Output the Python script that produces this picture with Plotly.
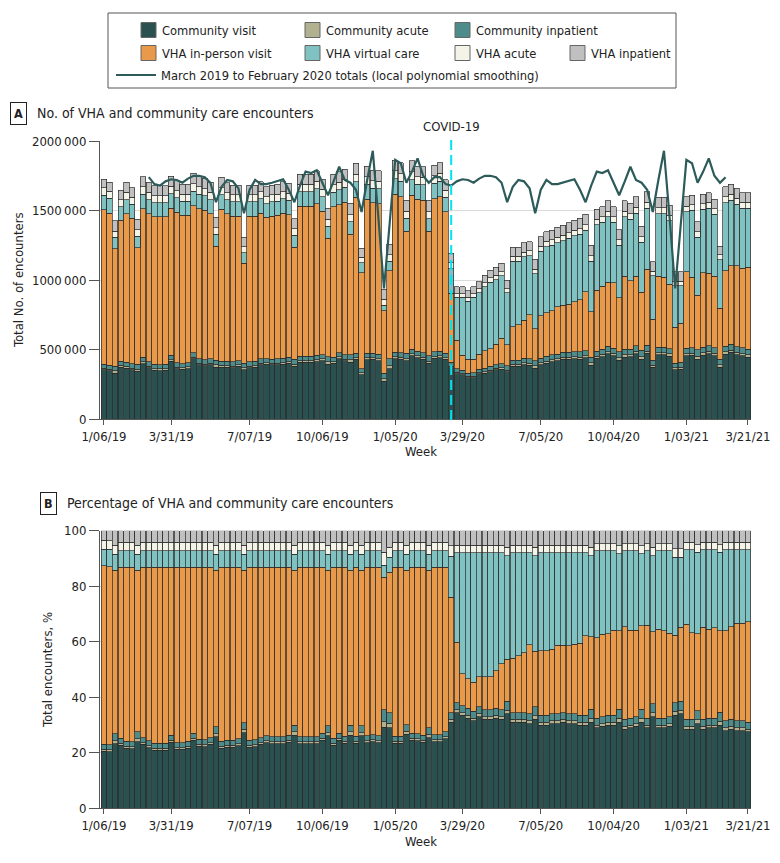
import pandas as pd
import plotly.graph_objects as go

# ---------------- data ----------------
weeks = [d.strftime("%-m/%d/%y") for d in pd.date_range("2019-01-06", periods=116, freq="7D")]
tick_labels = ["1/06/19", "3/31/19", "7/07/19", "10/06/19", "1/05/20",
               "3/29/20", "7/05/20", "10/04/20", "1/03/21", "3/21/21"]

# total weekly encounters (millions)
total_millions = [
    1.724, 1.702, 1.427, 1.647, 1.702, 1.664, 1.437, 1.743, 1.702, 1.678,
    1.678, 1.678, 1.748, 1.714, 1.690, 1.690, 1.767, 1.743, 1.731, 1.702,
    1.451, 1.738, 1.700, 1.683, 1.683, 1.307, 1.683, 1.683, 1.707, 1.671,
    1.683, 1.688, 1.707, 1.695, 1.443, 1.762, 1.762, 1.762, 1.786, 1.724,
    1.515, 1.760, 1.778, 1.796, 1.551, 1.839, 1.228, 1.820, 1.791, 1.786,
    0.936, 1.257, 1.863, 1.843, 1.576, 1.857, 1.820, 1.815, 1.575, 1.827,
    1.844, 1.720, 1.192, 0.953, 0.953, 0.924, 0.953, 0.989, 1.036, 1.072,
    1.092, 1.120, 1.000, 1.235, 1.235, 1.268, 1.276, 1.149, 1.312, 1.348,
    1.360, 1.379, 1.395, 1.413, 1.432, 1.444, 1.475, 1.250, 1.508, 1.527,
    1.570, 1.527, 1.364, 1.570, 1.551, 1.599, 1.389, 1.636, 1.132, 1.595,
    1.595, 1.539, 1.060, 1.060, 1.599, 1.611, 1.420, 1.618, 1.628, 1.580,
    1.245, 1.671, 1.688, 1.659, 1.628, 1.628,
]

# shares of weekly encounters (%)
community_visit = [
    20.6, 20.4, 23.3, 22.8, 21.6, 21.4, 24.0, 23.0, 21.8, 21.0,
    20.9, 21.0, 23.8, 21.2, 21.2, 21.6, 24.6, 22.4, 22.2, 23.0,
    25.8, 21.6, 22.0, 22.0, 22.6, 27.3, 22.0, 22.2, 23.0, 23.6,
    23.2, 23.2, 23.2, 23.8, 26.4, 23.2, 23.2, 23.2, 23.2, 24.5,
    26.2, 22.8, 24.5, 23.4, 26.4, 23.4, 26.2, 23.6, 24.0, 23.6,
    29.2, 29.0, 23.4, 23.4, 26.6, 24.6, 24.4, 23.8, 25.5, 24.0,
    24.0, 25.0, 31.0, 34.5, 33.5, 32.5, 31.5, 33.0, 32.0, 32.0,
    32.5, 32.0, 34.0, 31.0, 31.0, 31.0, 30.5, 32.0, 30.0, 30.0,
    30.5, 30.5, 31.0, 30.5, 30.5, 30.0, 30.0, 31.0, 29.0, 29.5,
    30.0, 30.0, 31.0, 28.5, 29.0, 29.5, 31.0, 29.0, 33.0, 29.0,
    29.0, 29.5, 33.5, 34.0, 28.5, 28.5, 30.5, 28.5, 29.0, 29.0,
    30.0, 28.0, 28.5, 28.0, 28.0, 27.5,
]
community_acute = [
    0.6, 0.7, 1.1, 0.7, 0.7, 0.7, 1.1, 0.7, 0.7, 0.7,
    0.7, 0.7, 0.7, 0.7, 0.7, 0.7, 0.7, 0.7, 0.7, 0.7,
    1.1, 0.7, 0.7, 0.7, 0.7, 1.1, 0.7, 0.7, 0.7, 0.7,
    0.7, 0.7, 0.7, 0.7, 1.1, 0.7, 0.7, 0.7, 0.7, 0.7,
    1.1, 0.7, 0.7, 0.7, 1.1, 0.7, 1.1, 0.7, 0.7, 0.7,
    2.0, 1.7, 0.7, 0.7, 1.1, 0.7, 0.7, 0.7, 1.1, 0.7,
    0.7, 0.7, 1.0, 1.0, 1.0, 1.0, 1.0, 1.0, 1.0, 1.0,
    1.0, 1.0, 1.4, 1.0, 1.0, 1.0, 1.0, 1.4, 1.0, 1.0,
    1.0, 1.0, 1.0, 1.0, 1.0, 1.0, 1.0, 1.4, 1.0, 1.0,
    1.0, 1.0, 1.4, 1.0, 1.0, 1.0, 1.4, 1.0, 1.4, 1.0,
    1.0, 1.0, 1.4, 1.4, 1.0, 1.0, 1.4, 1.0, 1.0, 1.0,
    1.4, 1.0, 1.0, 1.0, 1.0, 1.0,
]
community_inpatient = [
    1.8, 1.8, 2.4, 1.8, 1.8, 1.8, 2.4, 1.8, 1.8, 1.8,
    1.8, 1.8, 1.8, 1.8, 1.8, 1.8, 1.8, 1.8, 1.8, 1.8,
    2.4, 1.8, 1.8, 1.8, 1.8, 2.4, 1.8, 1.8, 1.8, 1.8,
    1.8, 1.8, 1.8, 1.8, 2.4, 1.8, 1.8, 1.8, 1.8, 1.8,
    2.4, 1.8, 1.8, 1.8, 2.4, 1.8, 2.4, 1.8, 1.8, 1.8,
    4.3, 3.8, 1.8, 1.8, 2.4, 1.8, 1.8, 1.8, 2.4, 1.8,
    1.8, 1.8, 2.5, 2.5, 2.5, 2.5, 2.5, 2.5, 2.5, 2.5,
    2.5, 2.5, 3.2, 2.5, 2.5, 2.5, 2.5, 3.2, 2.5, 2.5,
    2.5, 2.5, 2.5, 2.5, 2.5, 2.5, 2.5, 3.2, 2.5, 2.5,
    2.5, 2.5, 3.2, 2.5, 2.5, 2.5, 3.2, 2.5, 3.2, 2.5,
    2.5, 2.5, 3.2, 3.2, 2.5, 2.5, 3.2, 2.5, 2.5, 2.5,
    3.2, 2.5, 2.5, 2.5, 2.5, 2.5,
]
vha_in_person = [
    64.3, 64.1, 59.0, 61.5, 62.7, 62.9, 58.3, 61.3, 62.5, 63.3,
    63.4, 63.3, 60.5, 63.1, 63.1, 62.7, 59.7, 61.9, 62.1, 61.3,
    56.5, 62.7, 62.3, 62.3, 61.7, 55.0, 62.3, 62.1, 61.3, 60.7,
    61.1, 61.1, 61.1, 60.5, 55.9, 61.1, 61.1, 61.1, 61.1, 59.8,
    56.1, 61.5, 59.8, 60.9, 55.9, 60.9, 56.1, 60.7, 60.3, 60.7,
    47.7, 50.5, 60.9, 60.9, 55.7, 59.7, 59.9, 60.5, 56.8, 60.3,
    60.3, 59.3, 41.5, 21.8, 11.4, 10.6, 10.4, 10.9, 11.9, 11.9,
    13.5, 16.5, 15.1, 19.5, 20.5, 21.6, 25.0, 19.9, 23.3, 23.2,
    23.3, 24.7, 24.2, 24.6, 25.1, 25.9, 28.6, 26.2, 29.0, 29.7,
    29.3, 30.7, 28.4, 33.4, 31.7, 31.2, 30.2, 33.5, 26.0, 32.0,
    31.5, 30.0, 24.2, 26.6, 34.3, 31.3, 27.7, 33.2, 32.0, 32.5,
    29.4, 32.4, 33.4, 35.1, 35.1, 36.2,
]
vha_virtual = [
    6.1, 6.3, 5.8, 6.0, 6.0, 6.0, 5.8, 6.0, 6.0, 6.0,
    6.0, 6.0, 6.0, 6.0, 6.0, 6.0, 6.0, 6.0, 6.0, 6.0,
    5.8, 6.0, 6.0, 6.0, 6.0, 5.8, 6.0, 6.0, 6.0, 6.0,
    6.0, 6.0, 6.0, 6.0, 5.8, 6.0, 6.0, 6.0, 6.0, 6.0,
    5.8, 6.0, 6.0, 6.0, 5.8, 6.0, 5.8, 6.0, 6.0, 6.0,
    4.3, 5.5, 6.0, 6.0, 5.8, 6.0, 6.0, 6.0, 5.8, 6.0,
    6.0, 6.0, 14.8, 32.2, 43.6, 45.4, 46.6, 44.6, 44.6, 44.6,
    42.5, 40.0, 37.3, 38.0, 37.0, 35.9, 33.0, 34.5, 35.2, 35.3,
    34.7, 33.3, 33.3, 33.4, 32.9, 32.6, 29.9, 29.2, 31.2, 30.0,
    29.9, 28.5, 27.7, 27.3, 28.5, 28.5, 25.9, 26.7, 27.4, 28.2,
    28.7, 29.7, 28.2, 25.3, 26.9, 29.9, 29.4, 28.0, 28.7, 28.2,
    28.2, 29.3, 27.8, 26.6, 26.6, 26.0,
]
vha_acute = [
    3.1, 3.0, 3.2, 3.0, 3.0, 3.0, 3.2, 3.0, 3.0, 3.0,
    3.0, 3.0, 3.0, 3.0, 3.0, 3.0, 3.0, 3.0, 3.0, 3.0,
    3.2, 3.0, 3.0, 3.0, 3.0, 3.2, 3.0, 3.0, 3.0, 3.0,
    3.0, 3.0, 3.0, 3.0, 3.2, 3.0, 3.0, 3.0, 3.0, 3.0,
    3.2, 3.0, 3.0, 3.0, 3.2, 3.0, 3.2, 3.0, 3.0, 3.0,
    4.8, 3.5, 3.0, 3.0, 3.2, 3.0, 3.0, 3.0, 3.2, 3.0,
    3.0, 3.0, 3.7, 2.8, 2.8, 2.8, 2.8, 2.8, 2.8, 2.8,
    2.8, 2.8, 3.0, 2.8, 2.8, 2.8, 2.8, 3.0, 2.8, 2.8,
    2.8, 2.8, 2.8, 2.8, 2.8, 2.8, 2.8, 3.0, 2.6, 2.6,
    2.6, 2.6, 2.8, 2.6, 2.6, 2.6, 2.8, 2.6, 3.0, 2.6,
    2.6, 2.6, 3.0, 3.0, 2.6, 2.6, 2.8, 2.6, 2.6, 2.6,
    2.8, 2.6, 2.6, 2.6, 2.6, 2.6,
]
vha_inpatient = [
    3.5, 3.7, 5.2, 4.2, 4.2, 4.2, 5.2, 4.2, 4.2, 4.2,
    4.2, 4.2, 4.2, 4.2, 4.2, 4.2, 4.2, 4.2, 4.2, 4.2,
    5.2, 4.2, 4.2, 4.2, 4.2, 5.2, 4.2, 4.2, 4.2, 4.2,
    4.2, 4.2, 4.2, 4.2, 5.2, 4.2, 4.2, 4.2, 4.2, 4.2,
    5.2, 4.2, 4.2, 4.2, 5.2, 4.2, 5.2, 4.2, 4.2, 4.2,
    7.7, 6.0, 4.2, 4.2, 5.2, 4.2, 4.2, 4.2, 5.2, 4.2,
    4.2, 4.2, 5.5, 5.2, 5.2, 5.2, 5.2, 5.2, 5.2, 5.2,
    5.2, 5.2, 6.0, 5.2, 5.2, 5.2, 5.2, 6.0, 5.2, 5.2,
    5.2, 5.2, 5.2, 5.2, 5.2, 5.2, 5.2, 6.0, 4.7, 4.7,
    4.7, 4.7, 5.5, 4.7, 4.7, 4.7, 5.5, 4.7, 6.0, 4.7,
    4.7, 4.7, 6.5, 6.5, 4.2, 4.2, 5.0, 4.2, 4.2, 4.2,
    5.0, 4.2, 4.2, 4.2, 4.2, 4.2,
]

# March 2019 - February 2020 totals, local polynomial smoothing (millions);
# drawn over weeks 3/03/19-2/23/20 and again one year later for comparison
trend_millions = [
    1.74, 1.69, 1.68, 1.71, 1.725, 1.72, 1.70, 1.73, 1.75, 1.75,
    1.74, 1.70, 1.56, 1.67, 1.72, 1.71, 1.66, 1.48, 1.65, 1.72,
    1.69, 1.69, 1.70, 1.71, 1.725, 1.65, 1.56, 1.68, 1.78, 1.77,
    1.79, 1.70, 1.61, 1.71, 1.815, 1.72, 1.70, 1.65, 1.49, 1.72,
    1.93, 1.45, 0.94, 1.40, 1.865, 1.84, 1.70, 1.78, 1.875, 1.75,
    1.70, 1.74,
]
trend_weeks = weeks[8:60] + weeks[60:112]
covid_week = weeks[62]

series = [
    ("Community visit", community_visit, "#2A5050"),
    ("Community acute", community_acute, "#B1B08F"),
    ("Community inpatient", community_inpatient, "#4E8C8B"),
    ("VHA in-person visit", vha_in_person, "#E9994A"),
    ("VHA virtual care", vha_virtual, "#7FC2C1"),
    ("VHA acute", vha_acute, "#F3F3E7"),
    ("VHA inpatient", vha_inpatient, "#C0C0C0"),
]

FONT = "DejaVu Sans Condensed, Liberation Sans Narrow, sans-serif"
FS = 12.5
W, H = 780, 863


def px(x):
    return x / W


def py(y):
    return 1 - y / H


fig = go.Figure()
for name, share, color in series:
    counts = [t * 1e6 * s / 100 for t, s in zip(total_millions, share)]
    fig.add_trace(go.Bar(x=weeks, y=counts, name=name, marker_color=color,
                         marker_line=dict(color="#2b2b2b", width=0.7),
                         xaxis="x", yaxis="y", showlegend=False))
    fig.add_trace(go.Bar(x=weeks, y=share, name=name, marker_color=color,
                         marker_line=dict(color="#2b2b2b", width=0.7),
                         xaxis="x2", yaxis="y2", showlegend=False))

fig.add_trace(go.Scatter(x=trend_weeks, y=[v * 1e6 for v in trend_millions + trend_millions],
                         mode="lines", line=dict(color="#2C5B5A", width=2.2),
                         xaxis="x", yaxis="y", showlegend=False))

axis_common = dict(type="category", range=[-0.71, 115.54], tickmode="array",
                   tickvals=tick_labels, ticktext=tick_labels, ticks="outside",
                   ticklen=5, tickcolor="#555", showline=True, linecolor="#555",
                   linewidth=1, showgrid=False, automargin=False,
                   tickfont=dict(size=FS + 0.5, color="#222"))
yaxis_common = dict(ticks="outside", ticklen=10, tickcolor="#555", showline=True,
                    linecolor="#555", linewidth=1, showgrid=True, gridcolor="#dadada",
                    zeroline=False, automargin=False, tickfont=dict(size=FS + 0.5, color="#222"))

fig.update_layout(
    width=W, height=H, margin=dict(l=0, r=0, t=0, b=0, autoexpand=False),
    barmode="stack", bargap=0.04, plot_bgcolor="white", paper_bgcolor="white",
    showlegend=False, font=dict(family=FONT, size=FS, color="#222"),
    xaxis=dict(domain=[px(100), px(751)], anchor="y", **axis_common),
    yaxis=dict(domain=[py(419.3), py(141)], anchor="x", range=[0, 2e6],
               tickvals=[0, 5e5, 1e6, 1.5e6, 2e6],
               ticktext=["0", "500\u2009000", "1000\u2009000", "1500\u2009000", "2000\u2009000"],
               **yaxis_common),
    xaxis2=dict(domain=[px(100), px(751)], anchor="y2", **axis_common),
    yaxis2=dict(domain=[py(808.3), py(530.7)], anchor="x2", range=[0, 100],
                tickvals=[0, 20, 40, 60, 80, 100], **yaxis_common),
)

shapes = []
annotations = []

# COVID-19 marker
shapes.append(dict(type="line", xref="x", yref="paper", x0=covid_week, x1=covid_week,
                   y0=py(420), y1=py(135), line=dict(color="#00E3EE", width=2, dash="10px,5px")))
annotations.append(dict(xref="x", yref="paper", x=covid_week, y=py(127), text="COVID-19",
                        showarrow=False, font=dict(size=FS + 0.5), xanchor="center", yanchor="middle"))

# legend box
shapes.append(dict(type="rect", xref="paper", yref="paper", x0=px(108), x1=px(676),
                   y0=py(88), y1=py(13), line=dict(color="#555", width=1), fillcolor="white",
                   layer="below"))
legend_pos = [(141, 30), (305, 30), (455, 30), (141, 53), (305, 53), (455, 53), (570, 53)]
for (name, _, color), (lx, ly) in zip(series, legend_pos):
    shapes.append(dict(type="rect", xref="paper", yref="paper", x0=px(lx), x1=px(lx + 15),
                       y0=py(ly + 7.5), y1=py(ly - 7.5), fillcolor=color,
                       line=dict(color="#666", width=1)))
    annotations.append(dict(xref="paper", yref="paper", x=px(lx + 19), y=py(ly), text=name,
                            showarrow=False, xanchor="left", yanchor="middle",
                            font=dict(size=FS + 0.3)))
shapes.append(dict(type="line", xref="paper", yref="paper", x0=px(116), x1=px(156),
                   y0=py(75), y1=py(75), line=dict(color="#2C5B5A", width=2.2)))
annotations.append(dict(xref="paper", yref="paper", x=px(159), y=py(75),
                        text="March 2019 to February 2020 totals (local polynomial smoothing)",
                        showarrow=False, xanchor="left", yanchor="middle",
                        font=dict(size=FS + 0.3)))

# panel headers
annotations.append(dict(xref="paper", yref="paper", x=px(18), y=py(113), text="<b>A</b>",
                        showarrow=False, xanchor="center", yanchor="middle",
                        bordercolor="#222", borderwidth=1, borderpad=3, font=dict(size=12.5)))
annotations.append(dict(xref="paper", yref="paper", x=px(35), y=py(113),
                        text="No. of VHA and community care encounters", showarrow=False,
                        xanchor="left", yanchor="middle", font=dict(size=FS + 1.5)))
annotations.append(dict(xref="paper", yref="paper", x=px(48), y=py(503), text="<b>B</b>",
                        showarrow=False, xanchor="center", yanchor="middle",
                        bordercolor="#222", borderwidth=1, borderpad=3, font=dict(size=12.5)))
annotations.append(dict(xref="paper", yref="paper", x=px(65), y=py(503),
                        text="Percentage of VHA and community care encounters", showarrow=False,
                        xanchor="left", yanchor="middle", font=dict(size=FS + 1.5)))

# axis titles
annotations.append(dict(xref="paper", yref="paper", x=px(18), y=py(280), text="Total No. of encounters",
                        showarrow=False, textangle=-90, xanchor="center", yanchor="middle",
                        font=dict(size=FS + 0.5)))
annotations.append(dict(xref="paper", yref="paper", x=px(47), y=py(670), text="Total encounters, %",
                        showarrow=False, textangle=-90, xanchor="center", yanchor="middle",
                        font=dict(size=FS + 0.5)))
annotations.append(dict(xref="paper", yref="paper", x=px(421), y=py(452), text="Week",
                        showarrow=False, xanchor="center", yanchor="middle", font=dict(size=FS + 0.5)))
annotations.append(dict(xref="paper", yref="paper", x=px(421), y=py(841), text="Week",
                        showarrow=False, xanchor="center", yanchor="middle", font=dict(size=FS + 0.5)))

fig.update_layout(shapes=shapes, annotations=annotations)
fig.write_html("out.html", config={"displayModeBar": False},
               post_script="document.body.style.margin='0';document.body.style.overflow='hidden';")
